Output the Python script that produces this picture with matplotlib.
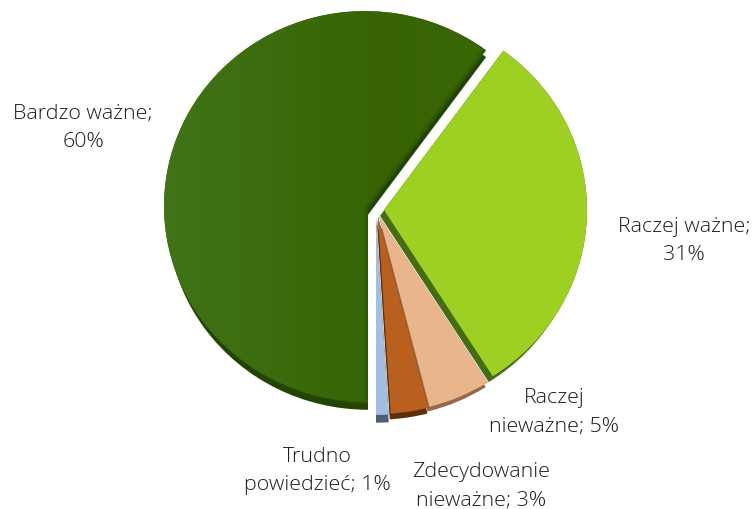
import matplotlib
matplotlib.use("Agg")
import matplotlib.pyplot as plt
import numpy as np
from matplotlib.colors import LinearSegmentedColormap

labels = ["Bardzo ważne;\n60%", "Raczej ważne;\n31%", "Raczej\nnieważne; 5%",
          "Zdecydowanie\nnieważne; 3%", "Trudno\npowiedzieć; 1%"]
values = [60, 31, 5, 3, 1]
colors = ["#3b6a0a", "#9dd022", "#ebb58b", "#b96020", "#a3bedf"]
bevel_colors = ["#2f5a03", "#466b10", "#94694c", "#5e2f08", "#4f5d75"]
depth_colors = ["#234502", "#466b10", "#94694c", "#5e2f08", "#4f5d75"]

W, H = 755, 509
YS = 0.97
RADIUS = 203
CENTERS = [(368, 208), (384, 210), (379, 216), (378, 217), (376, 218)]
RADII = [201, 203, 203, 203, 203]
DEPTH = [(0, -7), (-4, -6), (-2, -5), (-1, -6), (0, -8)]
BEVEL = [(-3, 2), (0, 0), (0, 0), (0, 0), (0, 0)]
LABEL_POS = [(83, 128), (684, 241), (554, 412), (481, 486), (317, 471)]

fig = plt.figure(figsize=(W / 100, H / 100), dpi=100)
ax = fig.add_axes([0, 0, 1, 1])


def flip(p):
    return p[0], (H - p[1]) / YS


pie_kw = dict(startangle=270, counterclock=False, radius=RADIUS, center=(0, 0), frame=False)
depth_w, _ = ax.pie(values, colors=depth_colors, **pie_kw)
base_w, _ = ax.pie(values, colors=bevel_colors, **pie_kw)
top_w, _ = ax.pie(values, colors=colors, **pie_kw)

for i in range(len(values)):
    cx, cy = flip(CENTERS[i])
    for w in (depth_w[i], base_w[i], top_w[i]):
        w.set_radius(RADII[i])
    depth_w[i].set_center((cx + DEPTH[i][0], cy + DEPTH[i][1]))
    depth_w[i].set_zorder(1)
    base_w[i].set_center((cx, cy))
    base_w[i].set_zorder(2)
    top_w[i].set_center((cx + BEVEL[i][0], cy + BEVEL[i][1]))
    top_w[i].set_zorder(3)

ax.set_xlim(0, W)
ax.set_ylim(0, H / YS)
ax.set_aspect("auto")
ax.axis("off")

for i in range(len(values)):
    top_w[i].set_clip_path(base_w[i])

# soft horizontal shading on the large slice
shade = LinearSegmentedColormap.from_list("shade", ["#417318", "#3c6c0e", "#376303", "#3a6805"])
im = ax.imshow(np.linspace(0, 1, 256)[None, :], cmap=shade, extent=(160, 490, 0, H / YS),
               aspect="auto", zorder=3.5)
ax.set_xlim(0, W)
ax.set_ylim(0, H / YS)
im.set_clip_path(top_w[0])

for lab, pos in zip(labels, LABEL_POS):
    x, y = flip(pos)
    ax.text(x, y, lab, ha="center", va="center", fontsize=15.4, color="#1a1a1a",
            family="Open Sans", fontweight="light", linespacing=1.55, zorder=5, clip_on=True)

fig.savefig("out.png", dpi=100)
